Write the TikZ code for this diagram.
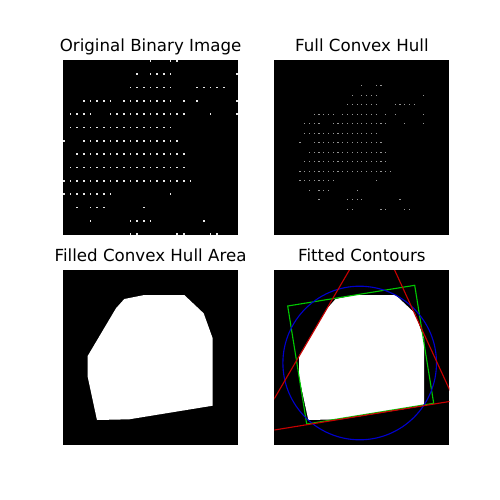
\documentclass[tikz,border=0pt]{standalone}
\usepackage{fontspec}
\setmainfont{DejaVu Sans}
\definecolor{dotlight}{RGB}{232,232,232}
\definecolor{dotdim}{RGB}{150,150,150}
\definecolor{cvred}{RGB}{200,0,0}
\definecolor{cvgreen}{RGB}{0,200,0}
\definecolor{cvblue}{RGB}{0,0,205}

%% rows of the binary image: row/{columns that are set}
\newcommand{\dotrows}{0/{13,16,17}, 1/{11,13,14,15,16,26},
  2/{10,11,12,13,14,15,16,20,21,22,23,24},
  3/{3,4,5,6,7,9,10,11,12,13,14,15,16,18,20,26},
  4/{1,2,3,4,7,8,9,10,11,12,13,14,15,16,17,18,22,26},
  5/{1,...,16}, 6/{0,3,4,...,17}, 7/{2,...,18}, 8/{1,...,18},
  9/{0,...,19}, 10/{0,...,7,16}, 11/{2,4,5,6,12},
  12/{4,10,11,12,13,21}, 13/{10,11,17,18,22,23}}
\newcommand{\binarydots}[1]{%
  \foreach \r/\cols in \dotrows
    \foreach \c in \cols
      \fill[#1] ({(4*\c+0.5)*5/3-5/6},{(8*\r+0.5)*5/3-5/6}) rectangle ++(5/3,5/3);
}

\begin{document}
\begin{tikzpicture}[x=0.72pt, y=-0.72pt,
  title/.style={anchor=base, inner sep=0pt, font=\fontsize{12}{14}\selectfont},
  fitline/.style={line width=0.8pt}]
  %% Canvas
  \fill[white] (0,0) rectangle (500,500);
  \useasboundingbox (0,0) rectangle (500,500);

  %% Titles
  \node[title] (t-orig) at (150.57,51.67) {Original Binary Image};
  \node[title] (t-full) at (361.9,51.67) {Full Convex Hull};
  \node[title] (t-area) at (150.57,261.67) {Filled Convex Hull Area};
  \node[title] (t-fit)  at (361.9,261.67) {Fitted Contours};

  %% Black image areas
  \foreach \px/\py in {63.07/60, 274.4/60, 63.07/270, 274.4/270}
    \fill[black] (\px,\py) rectangle ++(175,175);

  %% Original binary image
  \begin{scope}[shift={(63.07,60)}]
    \clip (0,0) rectangle (175,175);
    \binarydots{dotlight}
  \end{scope}

  %% Same image, padded
  \begin{scope}[shift={(299.4,85)}, scale=0.7143]
    \binarydots{dotdim}
  \end{scope}

  %% Filled hull (bottom panels)
  \foreach \px in {63.07, 274.4}
    \fill[white, shift={(\px,270)}] (52.9,38.3) -- (61.2,29) -- (81.2,25)
      -- (121.2,25) -- (140.6,43.3) -- (149.6,68.3) -- (149.6,135.7)
      -- (66.2,149.3) -- (33.9,150) -- (24.6,106.7) -- (24.6,86) -- cycle;

  %% Fitted shapes
  \begin{scope}[shift={(274.4,270)}]
    \clip (0,0) rectangle (175,175);
    \draw[fitline, cvgreen] (13.3,36) -- (140.3,15.3) -- (159.3,133.3)
      -- (32.3,154) -- cycle;
    \draw[fitline, cvblue] (85.3,93) circle (76.8);
    \draw[fitline, cvred] (-5,137.07) -- (80,-8.57);
    \draw[fitline, cvred] (117.9,-5) -- (180,130.2);
    \draw[fitline, cvred] (-5,160.8) -- (180,130.7);
  \end{scope}
\end{tikzpicture}
\end{document}
